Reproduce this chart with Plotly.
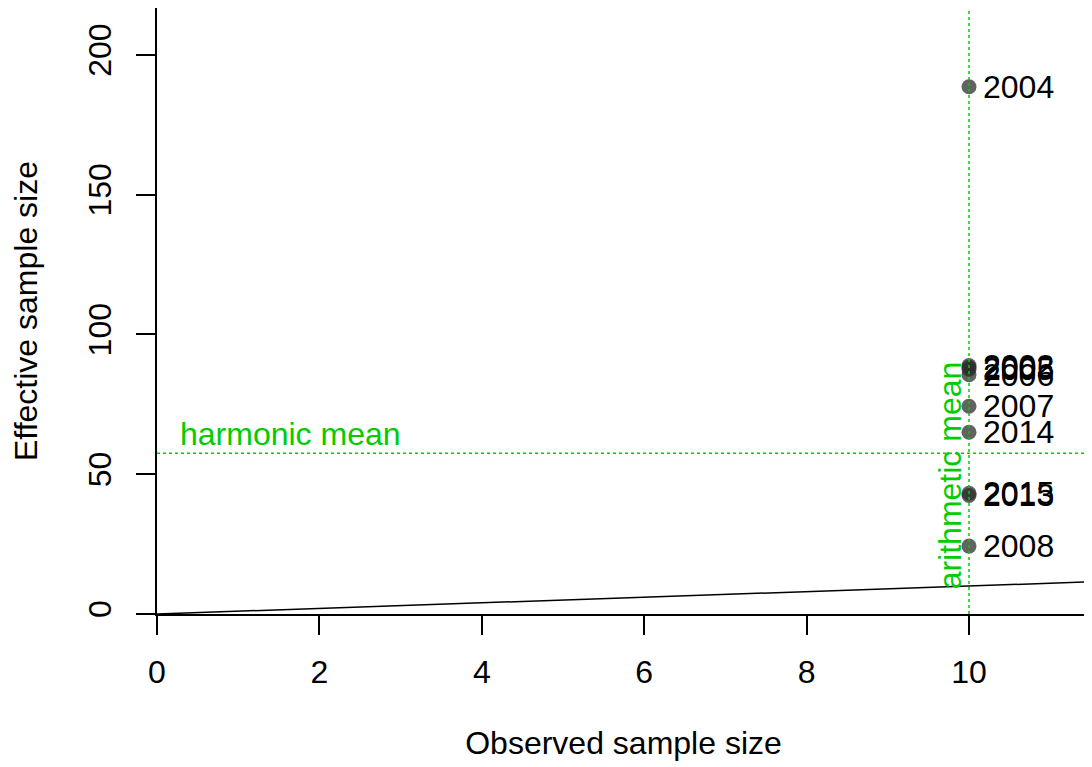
import plotly.graph_objects as go

# effective vs observed sample size, one point per year
years = ["2004", "2002", "2003", "2005", "2006", "2007", "2014", "2015", "2013", "2008"]
observed = [10, 10, 10, 10, 10, 10, 10, 10, 10, 10]
effective = [188.6, 88.9, 88.3, 87.6, 85.6, 74.3, 65.0, 43.2, 42.4, 24.3]

harmonic_mean = 57.5
arithmetic_mean = 10
one_to_one = [0, 12]

x_ticks = [0, 2, 4, 6, 8, 10]
y_ticks = [0, 50, 100, 150, 200]

green = "#00CD00"
font = "Liberation Sans, Arial, sans-serif"
fs = 32

fig = go.Figure()

# 1:1 line
fig.add_trace(go.Scatter(x=one_to_one, y=one_to_one, mode="lines",
                         line=dict(color="black", width=1.5), hoverinfo="skip"))

fig.add_trace(go.Scatter(x=observed, y=effective, mode="markers",
                         marker=dict(size=15, color="rgba(45,45,45,0.75)", line=dict(width=0))))

for yr, xv, yv in zip(years, observed, effective):
    fig.add_annotation(x=xv, y=yv, text=yr, showarrow=False, xanchor="left",
                       yanchor="middle", xshift=12,
                       font=dict(size=fs, color="black", family=font))

fig.add_shape(type="line", x0=0, x1=1, xref="paper", y0=harmonic_mean, y1=harmonic_mean,
              line=dict(color=green, width=1.5, dash="dot"))
fig.add_shape(type="line", y0=0, y1=1, yref="paper", x0=arithmetic_mean, x1=arithmetic_mean,
              line=dict(color=green, width=1.5, dash="dot"))

fig.add_annotation(x=0.26, y=harmonic_mean, text="harmonic mean", showarrow=False,
                   xanchor="left", yanchor="bottom", yshift=-1,
                   font=dict(size=fs, color=green, family=font))
fig.add_annotation(x=arithmetic_mean, y=49.6, text="arithmetic mean", showarrow=False,
                   textangle=-90, xanchor="right", yanchor="middle", xshift=1,
                   font=dict(size=fs, color=green, family=font))

axis_common = dict(showgrid=False, zeroline=False, showline=True, linecolor="black",
                   linewidth=1.5, mirror=True, ticks="outside", ticklen=19,
                   tickwidth=1.5, tickcolor="black",
                   tickfont=dict(size=fs, color="black", family=font))

fig.update_xaxes(range=[0, 11.49], tickvals=x_ticks, ticklabelstandoff=10,
                 title=dict(text="Observed sample size", standoff=42,
                            font=dict(size=fs, color="black", family=font)),
                 **axis_common)
fig.update_yaxes(range=[0, 216.8], tickvals=y_ticks, tickangle=-90, ticklabelstandoff=12,
                 title=dict(text="Effective sample size", standoff=38,
                            font=dict(size=fs, color="black", family=font)),
                 **axis_common)

# page body adds ~8px offset, so shrink the figure accordingly
fig.update_layout(width=1084, height=759, showlegend=False,
                  plot_bgcolor="white", paper_bgcolor="white",
                  margin=dict(l=149, r=2, t=0, b=153, autoexpand=False))

fig.write_html("out.html")
